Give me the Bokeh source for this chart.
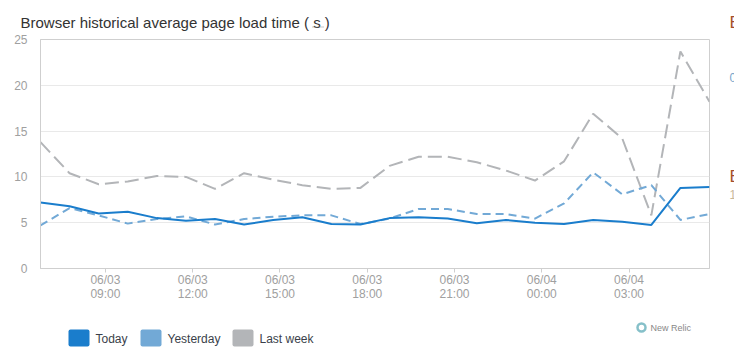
import pandas as pd
from bokeh.plotting import figure
from bokeh.layouts import column, row
from bokeh.models import Range1d, FixedTicker, DatetimeTickFormatter
from bokeh.core.properties import value
from bokeh.embed import file_html
from bokeh.resources import INLINE

# ---- data ----
start = "2013-06-03 06:46"
times = pd.date_range(start, periods=24, freq="h")
today = [7.2, 6.8, 6.0, 6.2, 5.5, 5.2, 5.4, 4.8, 5.3, 5.6, 4.85, 4.8,
         5.5, 5.6, 5.45, 4.95, 5.3, 5.0, 4.85, 5.3, 5.1, 4.75, 8.8, 8.9]
yesterday = [4.7, 6.6, 5.8, 4.9, 5.4, 5.7, 4.8, 5.4, 5.65, 5.8, 5.8, 4.85,
             5.45, 6.5, 6.5, 5.95, 5.95, 5.45, 7.1, 10.5, 8.1, 9.1, 5.3, 5.95]
last_week = [13.8, 10.4, 9.2, 9.5, 10.1, 10.0, 8.7, 10.4, 9.7, 9.1, 8.7, 8.8,
             11.2, 12.2, 12.2, 11.6, 10.7, 9.6, 11.7, 16.9, 14.2, 5.8, 23.7, 18.2]
tick_times = pd.date_range("2013-06-03 09:00", periods=7, freq="3h")
y_ticks = [0, 5, 10, 15, 20, 25]
series_names = ["Today", "Yesterday", "Last week"]
title_text = "Browser historical average page load time ( s )"

FONT = "Liberation Sans"
C_TODAY = "#1a7dcc"
C_YEST = "#72a9d6"
C_LAST = "#b3b5b8"


def blank(width, height):
    f = figure(width=width, height=height, output_backend="svg",
               toolbar_location=None, x_axis_location=None,
               y_axis_location=None, x_range=Range1d(0, width),
               y_range=Range1d(0, height), min_border=0)
    f.outline_line_color = None
    f.grid.grid_line_color = None
    f.background_fill_color = "white"
    f.border_fill_color = "white"
    return f


# ---- header (title) ----
head = blank(734, 31)
head.text(x=[20], y=[9], text=[title_text], text_font=value(FONT),
          text_font_size="15px", text_color="#333333", text_baseline="alphabetic")
head.line(x=[312, 324], y=[4.5, 4.5], line_color="#8a8a8a", line_width=1,
          line_dash="1 1")
head.text(x=[729], y=[9], text=["E"], text_font=value(FONT),
          text_font_size="17px", text_color="#a3502c", text_baseline="alphabetic")

# ---- main chart ----
p = figure(width=711, height=279, x_axis_type="datetime",
           output_backend="svg", toolbar_location=None,
           x_range=Range1d(times[0], times[-1]), y_range=Range1d(0, 25),
           min_border_left=40, min_border_right=2, min_border_top=8,
           min_border_bottom=42)
p.background_fill_color = "white"
p.border_fill_color = "white"
p.outline_line_color = "#cfcfcf"

p.xgrid.grid_line_color = None
p.ygrid.grid_line_color = "#e9e9e9"
p.ygrid.ticker = FixedTicker(ticks=y_ticks)

p.yaxis.ticker = FixedTicker(ticks=y_ticks)
p.yaxis.axis_line_color = "#cfcfcf"
p.yaxis.major_tick_line_color = None
p.yaxis.minor_tick_line_color = None
p.yaxis.major_label_text_color = "#a0a0a0"
p.yaxis.major_label_text_font = FONT
p.yaxis.major_label_text_font_size = "12px"
p.yaxis.major_label_standoff = 7

p.xaxis.ticker = FixedTicker(ticks=[t.value // 10**6 for t in tick_times])
fmt = "%m/%d\n%H:%M"
p.xaxis.formatter = DatetimeTickFormatter(hours=fmt, hourmin=fmt, minutes=fmt,
                                          days=fmt, context=None)
p.xaxis.axis_line_color = "#cfcfcf"
p.xaxis.major_tick_line_color = "#cfcfcf"
p.xaxis.major_tick_in = 0
p.xaxis.major_tick_out = 4
p.xaxis.minor_tick_line_color = None
p.xaxis.major_label_text_color = "#a0a0a0"
p.xaxis.major_label_text_font = FONT
p.xaxis.major_label_text_font_size = "12px"
p.xaxis.major_label_text_line_height = 1.0
p.xaxis.major_label_standoff = 0

p.line(times, last_week, line_color=C_LAST, line_width=2, line_dash="14 6")
p.line(times, yesterday, line_color=C_YEST, line_width=2, line_dash="8 5")
p.line(times, today, line_color=C_TODAY, line_width=2)

# ---- right edge (clipped neighbouring panel) ----
side = blank(23, 279)
side.text(x=[18], y=[233], text=["0"], text_font=value(FONT),
          text_font_size="12px", text_color="#7aa6cc", text_baseline="middle")
side.text(x=[18], y=[112], text=["E"], text_font=value(FONT),
          text_font_size="17px", text_color="#a3502c", text_baseline="alphabetic")
side.text(x=[18], y=[90], text=["1"], text_font=value(FONT),
          text_font_size="12px", text_color="#c8b89a", text_baseline="middle")

# ---- legend ----
leg = blank(734, 48)
box_left = [68, 140, 232]
text_left = [95, 167, 259]
colors = [C_TODAY, C_YEST, C_LAST]
leg.quad(left=box_left, right=[b + 21 for b in box_left], top=[29] * 3,
         bottom=[12] * 3, fill_color=colors, line_color=None, border_radius=2)
leg.text(x=text_left, y=[20] * 3, text=series_names, text_font=value(FONT),
         text_font_size="12px", text_color="#3a3f4a", text_baseline="middle")
leg.scatter(x=[641], y=[31], marker="circle", size=8, fill_color=None,
            line_color="#86c0c9", line_width=2.5)
leg.text(x=[650], y=[31], text=["New Relic"], text_font=value(FONT),
         text_font_size="9px", text_color="#888888", text_baseline="middle")

layout = column(head, row(p, side), leg, spacing=0)
open("out.html", "w").write(file_html(layout, INLINE))
